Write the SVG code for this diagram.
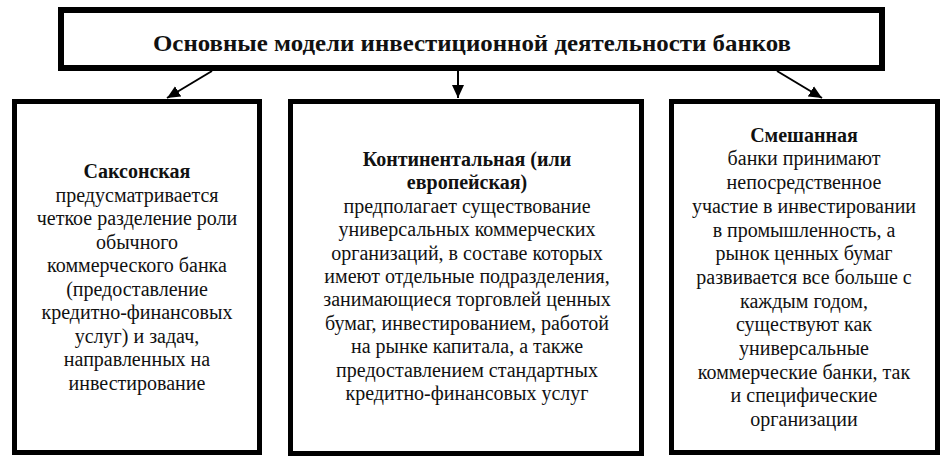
<svg xmlns="http://www.w3.org/2000/svg" width="951" height="459" viewBox="0 0 951 459" font-family="Liberation Serif, serif">
<defs>
<marker id="ah" markerUnits="userSpaceOnUse" markerWidth="14" markerHeight="14" viewBox="0 0 14 12" refX="13" refY="6" orient="auto">
<path d="M0,0 L13,6 L0,12 Z" fill="#000"/>
</marker>
</defs>
<rect width="951" height="459" fill="#fff"/>
<g id="title-node">
<rect x="61" y="10" width="821" height="58" fill="#fff" stroke="#000" stroke-width="6"/>
<text font-family="Liberation Serif" font-size="23" font-weight="bold" fill="#111" text-anchor="middle" x="472" y="51" textLength="638" lengthAdjust="spacingAndGlyphs">Основные модели инвестиционной деятельности банков</text>
</g>
<g id="connectors" stroke="#000" stroke-width="2" fill="none">
<line x1="212" y1="71" x2="167" y2="98" marker-end="url(#ah)"/>
<line x1="458" y1="71" x2="458" y2="98" marker-end="url(#ah)"/>
<line x1="777" y1="71" x2="822" y2="98" marker-end="url(#ah)"/>
</g>
<g id="saxon">
<rect x="14.5" y="101.5" width="245" height="351" fill="#fff" stroke="#000" stroke-width="5"/>
<text font-family="Liberation Serif" font-size="20" fill="#111" text-anchor="middle" x="137" y="178"><tspan font-weight="bold" x="137" y="178">Саксонская</tspan><tspan x="137" y="201.5">предусматривается</tspan><tspan x="137" y="225">четкое разделение роли</tspan><tspan x="137" y="248.5">обычного</tspan><tspan x="137" y="272">коммерческого банка</tspan><tspan x="137" y="295.5">(предоставление</tspan><tspan x="137" y="319">кредитно-финансовых</tspan><tspan x="137" y="342.5">услуг) и задач,</tspan><tspan x="137" y="366">направленных на</tspan><tspan x="137" y="389.5">инвестирование</tspan></text>
</g>
<g id="continental">
<rect x="290.5" y="101.5" width="351" height="352" fill="#fff" stroke="#000" stroke-width="5"/>
<text font-family="Liberation Serif" font-size="20" fill="#111" text-anchor="middle" x="467" y="166"><tspan font-weight="bold" x="467" y="166">Континентальная (или</tspan><tspan font-weight="bold" x="467" y="189.4">европейская)</tspan><tspan x="467" y="212.8">предполагает существование</tspan><tspan x="467" y="236.2">универсальных коммерческих</tspan><tspan x="467" y="259.6">организаций, в составе которых</tspan><tspan x="467" y="283">имеют отдельные подразделения,</tspan><tspan x="467" y="306.4">занимающиеся торговлей ценных</tspan><tspan x="467" y="329.8">бумаг, инвестированием, работой</tspan><tspan x="467" y="353.2">на рынке капитала, а также</tspan><tspan x="467" y="376.6">предоставлением стандартных</tspan><tspan x="467" y="400">кредитно-финансовых услуг</tspan></text>
</g>
<g id="mixed">
<rect x="671.5" y="101.5" width="266" height="351" fill="#fff" stroke="#000" stroke-width="5"/>
<text font-family="Liberation Serif" font-size="20" fill="#111" text-anchor="middle" x="804" y="141.7"><tspan font-weight="bold" x="804" y="141.7">Смешанная</tspan><tspan x="804" y="165.4">банки принимают</tspan><tspan x="804" y="189.1">непосредственное</tspan><tspan x="804" y="212.8">участие в инвестировании</tspan><tspan x="804" y="236.5">в промышленность, а</tspan><tspan x="804" y="260.2">рынок ценных бумаг</tspan><tspan x="804" y="283.9">развивается все больше с</tspan><tspan x="804" y="307.6">каждым годом,</tspan><tspan x="804" y="331.3">существуют как</tspan><tspan x="804" y="355">универсальные</tspan><tspan x="804" y="378.7">коммерческие банки, так</tspan><tspan x="804" y="402.4">и специфические</tspan><tspan x="804" y="426.1">организации</tspan></text>
</g>
</svg>
